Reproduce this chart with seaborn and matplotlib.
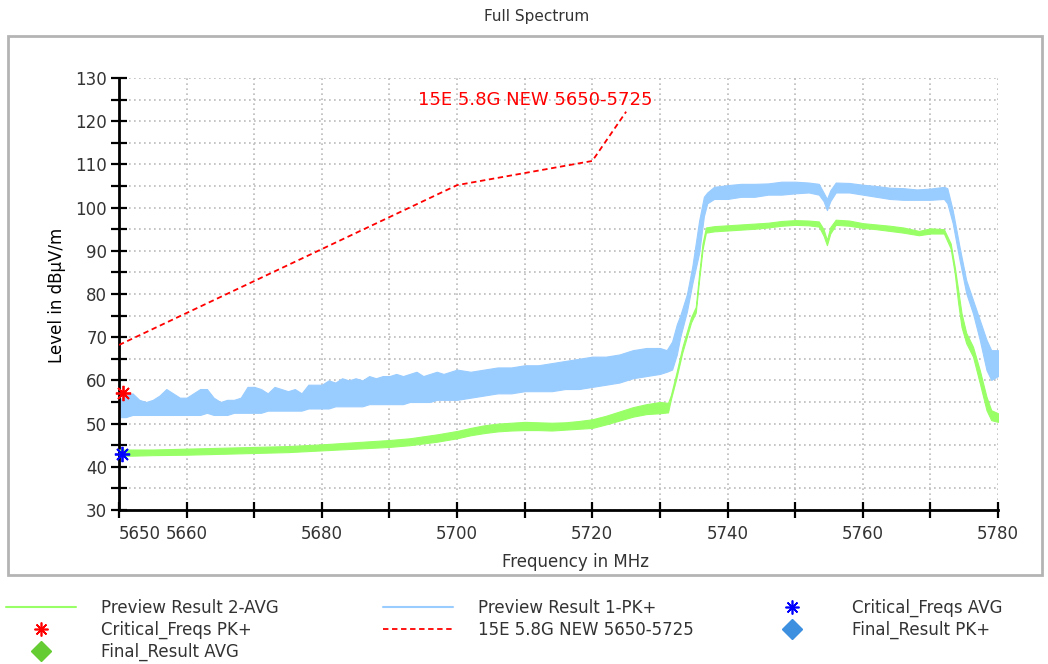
import numpy as np
import matplotlib
matplotlib.use("Agg")
import matplotlib.pyplot as plt
import seaborn as sns
from matplotlib.lines import Line2D
from matplotlib.patches import Rectangle

# Peak trace (Preview Result 1-PK+), low / high edge of the noisy band
pk_freq = [5650, 5651, 5652, 5653, 5654, 5655, 5656, 5657, 5658, 5659,
           5660, 5661, 5662, 5663, 5664, 5665, 5666, 5667, 5668, 5669,
           5670, 5671, 5672, 5673, 5674, 5675, 5676, 5677, 5678, 5679,
           5680, 5681, 5682, 5683, 5684, 5685, 5686, 5687, 5688, 5689,
           5690, 5691, 5692, 5693, 5694, 5695, 5696, 5697, 5698, 5699,
           5700, 5702, 5704, 5706, 5708, 5710, 5712, 5714, 5716, 5718,
           5720, 5722, 5724, 5726, 5728, 5730, 5731, 5731.8, 5732.5, 5733,
           5734, 5734.8, 5735.8, 5736.5, 5737, 5738, 5740, 5742, 5744, 5746,
           5748, 5750, 5752, 5753.5, 5754.2, 5754.7, 5755.2, 5756, 5758, 5760,
           5762, 5764, 5766, 5768, 5770, 5772, 5772.5, 5773.3, 5774.3, 5775.3,
           5776.3, 5777.3, 5778.3, 5779, 5780]
pk_low = [51.5, 51.5, 52, 52, 52, 52, 52, 52, 52, 52,
          52, 52, 52, 52.5, 52, 52, 52, 52.5, 52.5, 52.5,
          52.5, 52.5, 53, 53, 53, 53, 53, 53, 53.5, 53.5,
          53.5, 53.5, 54, 54, 54, 54, 54, 54.5, 54.5, 54.5,
          54.5, 54.5, 54.5, 55, 55, 55, 55, 55.5, 55.5, 55.5,
          55.5, 56, 56.5, 57, 57, 57.5, 57.5, 57.5, 58, 58,
          58.5, 59, 59.5, 60.5, 61, 61.5, 62, 62.5, 66, 70,
          76, 82.5, 89.5, 98, 101, 102, 102, 102.5, 102.5, 103,
          103, 103.3, 103.5, 103, 101.5, 99.4, 101.5, 103.5, 103.5, 103,
          102.5, 102, 101.8, 101.8, 101.8, 102, 101, 96.4, 88, 80.2,
          75.5, 69.4, 62.4, 60.1, 61]
pk_high = [55.5, 56.5, 57, 55.5, 55, 55.5, 56.5, 58, 57, 56,
           56, 57, 58, 58, 56, 55, 55.5, 55.5, 56, 58.5,
           58.5, 58, 57, 58.5, 58, 57.5, 58, 57, 59, 59,
           59, 60, 59.5, 60.5, 60, 60.5, 60, 61, 60.5, 61,
           61, 61.5, 61, 61.5, 62, 61, 61.5, 62, 61.5, 62,
           62.5, 62, 62.5, 63, 63, 63.5, 63.5, 64, 64.5, 65,
           65.5, 65.5, 66, 67, 67.5, 67.5, 67, 69, 73, 75,
           80, 86.5, 97, 102.5, 103.5, 104.8, 105.2, 105.5, 105.5, 105.6,
           106, 106, 105.8, 105.5, 103.5, 102, 104, 105.8, 105.7, 105.3,
           105, 104.6, 104.5, 104.2, 104.4, 104.8, 104.5, 99.4, 91, 83.2,
           78.6, 74, 69.4, 67, 67]

# Average trace (Preview Result 2-AVG)
avg_freq = [5650, 5655, 5660, 5665, 5670, 5675, 5680, 5685, 5690, 5693,
            5697, 5700, 5702, 5704, 5706, 5708, 5710, 5712, 5714, 5716,
            5718, 5720, 5722, 5724, 5726, 5728, 5730, 5731.2, 5731.6, 5732.4,
            5733.3, 5734.6, 5735.3, 5735.8, 5736.3, 5736.8, 5738, 5740, 5742, 5744,
            5746, 5748, 5750, 5752, 5753.5, 5754.2, 5754.7, 5755.2, 5756, 5758,
            5760, 5762, 5764, 5766, 5768.3, 5770, 5772, 5773, 5773.6, 5774.1,
            5774.6, 5775.3, 5776.3, 5777.3, 5778.3, 5779, 5780]
avg_low = [42.5, 42.7, 42.8, 43, 43.2, 43.4, 43.8, 44.2, 44.6, 45,
           45.8, 46.6, 47.3, 47.8, 48.2, 48.4, 48.5, 48.5, 48.4, 48.6,
           48.8, 49, 49.8, 50.7, 51.6, 52.2, 52.4, 52.6, 55.5, 60.3,
           66.4, 73.4, 75.7, 83.3, 90.3, 94.2, 94.5, 94.7, 94.9, 95.1,
           95.4, 95.8, 96, 95.9, 95.6, 93.5, 91.3, 94, 96, 95.8,
           95.3, 95, 94.6, 94.2, 93.6, 94, 94, 90.5, 84.8, 78,
           72.4, 68.6, 65.5, 59.4, 53.1, 50.8, 50.4]
avg_high = [44, 44, 44.2, 44.4, 44.6, 44.8, 45.2, 45.7, 46.2, 46.6,
            47.5, 48.3, 49, 49.6, 50, 50.2, 50.4, 50.3, 50.2, 50.3,
            50.6, 51, 51.8, 52.8, 53.8, 54.5, 55, 54.8, 56.5, 61.5,
            67.6, 74.6, 77, 84.7, 91.7, 95.4, 95.7, 95.9, 96.1, 96.3,
            96.5, 96.9, 97.1, 97, 96.8, 95, 92.5, 95.5, 97.2, 97,
            96.4, 96.1, 95.8, 95.4, 94.6, 95.2, 95, 91.7, 86.3, 81,
            75.6, 71, 67.8, 62.4, 56.2, 53.1, 52.4]

# limit line 15E 5.8G NEW 5650-5725
limit_freq = [5650, 5700, 5720, 5725]
limit_level = [68.2, 105.2, 110.8, 122.2]

# critical frequencies
crit_pk_freq = [5650.6]
crit_pk_level = [57.1]
crit_avg_freq = [5650.4]
crit_avg_level = [43.0]

x_ticks = [5650, 5660, 5670, 5680, 5690, 5700, 5710, 5720, 5730, 5740, 5750, 5760, 5770, 5780]
x_tick_labels = ['5650', '5660', '', '5680', '', '5700', '', '5720', '', '5740', '', '5760', '', '5780']
y_ticks = [30, 40, 50, 60, 70, 80, 90, 100, 110, 120, 130]

sns.set_style("white")
plt.rcParams['font.family'] = ['DejaVu Sans']

W, H = 1048, 664
fig = plt.figure(figsize=(W / 100, H / 100), dpi=100)
fig.patch.set_facecolor('white')

# grey frame around the chart
fig.add_artist(Rectangle((8 / W, 1 - 575 / H), (1042 - 8) / W, (575 - 36) / H,
                         transform=fig.transFigure, fill=False, ec='#b4b4b4', lw=2))

ax = fig.add_axes([119 / W, 1 - 510 / H, (998 - 119) / W, (510 - 78) / H])

pk_color = '#99ccff'
avg_color = '#99ff66'

ax.fill_between(pk_freq, pk_low, pk_high, color=pk_color, lw=0.8, ec=pk_color, zorder=2)
ax.fill_between(avg_freq, avg_low, avg_high, color=avg_color, lw=0.8, ec=avg_color, zorder=3)

sns.lineplot(x=limit_freq, y=limit_level, ax=ax, color='red', lw=1.3,
             linestyle=(0, (3, 2)), zorder=4)
ax.text(5711.5, 124.8, '15E 5.8G NEW 5650-5725', color='red', fontsize=13,
        ha='center', va='center', zorder=5)

ax.plot(crit_pk_freq, crit_pk_level, ls='none', marker=(8, 2, 0), ms=11, mew=1.3,
        color='red', zorder=6, clip_on=False)
ax.plot(crit_avg_freq, crit_avg_level, ls='none', marker=(8, 2, 0), ms=11, mew=1.3,
        color='blue', zorder=6, clip_on=False)

ax.set_xlim(5650, 5780)
ax.set_ylim(30, 130)
ax.set_xticks(x_ticks)
ax.set_xticklabels(x_tick_labels)
ax.set_yticks(y_ticks)
ax.set_yticks(np.arange(35, 130, 10), minor=True)
ax.xaxis.grid(True, which='major', color='#bbbbbb', ls=(0, (1, 2)), lw=1.2)
ax.yaxis.grid(True, which='both', color='#bbbbbb', ls=(0, (1, 2)), lw=1.2)
ax.set_axisbelow(True)

for side in ['top', 'right']:
    ax.spines[side].set_visible(False)
for side in ['left', 'bottom']:
    ax.spines[side].set_linewidth(2)
    ax.spines[side].set_color('black')

ax.tick_params(axis='both', which='both', direction='inout', length=11, width=1.6,
               color='black', labelsize=12, labelcolor='#333333',
               bottom=True, left=True, top=False, right=False)
ax.tick_params(axis='x', pad=5)
ax.tick_params(axis='y', pad=3)
lbl0 = ax.get_xticklabels()[0]
lbl0.set_horizontalalignment('left')

fig.text(537 / W, 1 - 17 / H, 'Full Spectrum', ha='center', va='center',
         fontsize=11, color='#333333')
fig.text(575 / W, 1 - 562 / H, 'Frequency in MHz', ha='center', va='center',
         fontsize=12, color='#333333')
fig.text(57 / W, 1 - 295 / H, 'Level in dBµV/m', ha='center', va='center',
         rotation=90, fontsize=12, color='black')

# legend, three columns
fs = 12
hl = 70 / (fs * 100 / 72)
htp = 25 / (fs * 100 / 72)
col1 = [Line2D([], [], color=avg_color, lw=1.5),
        Line2D([], [], ls='none', marker=(8, 2, 0), ms=10, mew=1.2, color='red'),
        Line2D([], [], ls='none', marker='D', ms=10, color='#66cc33')]
col1_lab = ['Preview Result 2-AVG', 'Critical_Freqs PK+', 'Final_Result AVG']
col2 = [Line2D([], [], color=pk_color, lw=1.5),
        Line2D([], [], color='red', lw=1.3, ls=(0, (3, 2)))]
col2_lab = ['Preview Result 1-PK+', '15E 5.8G NEW 5650-5725']
col3 = [Line2D([], [], ls='none', marker=(8, 2, 0), ms=10, mew=1.2, color='blue'),
        Line2D([], [], ls='none', marker='D', ms=10, color='#3d8fe0')]
col3_lab = ['Critical_Freqs AVG', 'Final_Result PK+']

for hands, labs, x0 in [(col1, col1_lab, 6), (col2, col2_lab, 383), (col3, col3_lab, 757)]:
    leg = fig.legend(hands, labs, loc='upper left', bbox_to_anchor=(x0 / W, 1 - 599 / H),
                     frameon=False, borderpad=0, borderaxespad=0, fontsize=fs,
                     handlelength=hl, handletextpad=htp, labelspacing=0.23, numpoints=1)
    for t in leg.get_texts():
        t.set_color('#333333')

fig.savefig('out.png', dpi=100, facecolor='white')
